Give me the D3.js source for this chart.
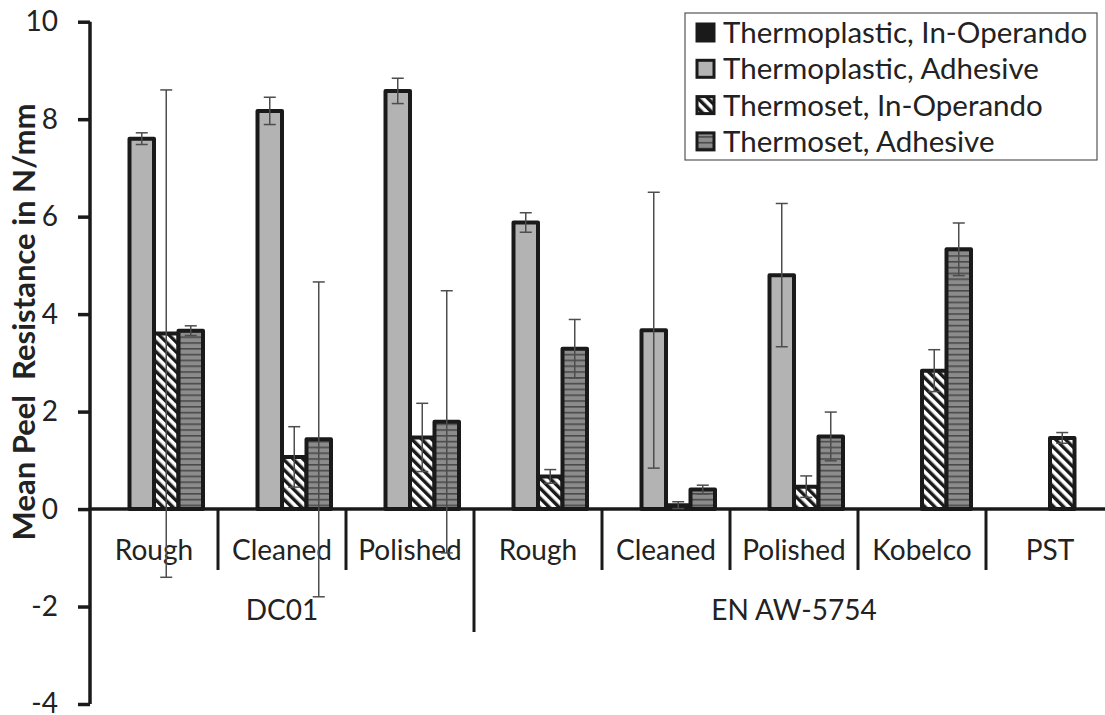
<!DOCTYPE html>
<html>
<head>
<meta charset="utf-8">
<script src="https://cdn.jsdelivr.net/npm/d3@7"></script>
<style>
  body { margin: 0; background: #fff; }
  text { font-family: Lato, 'Open Sans', sans-serif; fill: #222; }
</style>
</head>
<body>
<div id="chart"></div>
<script>
// data
const categories = ['Rough', 'Cleaned', 'Polished', 'Rough', 'Cleaned', 'Polished', 'Kobelco', 'PST'];
const groupNames = ['DC01', 'EN AW-5754'];
const groupSizes = [3, 5];

const seriesNames = ['Thermoplastic, In-Operando', 'Thermoplastic, Adhesive', 'Thermoset, In-Operando', 'Thermoset, Adhesive'];
const tpInOp    = [null, null, null, null, null, null, null, null];
const tpInOpErr = [null, null, null, null, null, null, null, null];
const tpAdh     = [7.6, 8.17, 8.58, 5.88, 3.67, 4.8, null, null];
const tpAdhErr  = [0.12, 0.28, 0.26, 0.2, 2.83, 1.47, null, null];
const tsInOp    = [3.6, 1.07, 1.47, 0.67, 0.08, 0.46, 2.84, 1.46];
const tsInOpErr = [5.0, 0.62, 0.7, 0.14, 0.07, 0.22, 0.43, 0.11];
const tsAdh     = [3.66, 1.43, 1.79, 3.29, 0.4, 1.49, 5.33, null];
const tsAdhErr  = [0.1, 3.23, 2.69, 0.6, 0.09, 0.5, 0.54, null];

const yTicks = [-4, -2, 0, 2, 4, 6, 8, 10];

const values = [tpInOp, tpAdh, tsInOp, tsAdh];
const errors = [tpInOpErr, tpAdhErr, tsInOpErr, tsAdhErr];
const fills = ['#1a1a1a', '#b3b3b3', 'url(#diag)', 'url(#horiz)'];

const W = 1105, H = 715;
const svg = d3.select('#chart').append('svg').attr('width', W).attr('height', H);

// patterns
const defs = svg.append('defs');
const diag = defs.append('pattern').attr('id', 'diag')
  .attr('patternUnits', 'userSpaceOnUse').attr('width', 7).attr('height', 7)
  .attr('patternTransform', 'rotate(-45)');
diag.append('rect').attr('width', 7).attr('height', 7).attr('fill', '#fff');
diag.append('rect').attr('width', 3.4).attr('height', 7).attr('fill', '#1a1a1a');

const horiz = defs.append('pattern').attr('id', 'horiz')
  .attr('patternUnits', 'userSpaceOnUse').attr('width', 10).attr('height', 5.8);
horiz.append('rect').attr('width', 10).attr('height', 5.8).attr('fill', '#8c8c8c');
horiz.append('rect').attr('y', 0).attr('width', 10).attr('height', 1.6).attr('fill', '#4a4a4a');

//scales
const x0 = d3.scaleBand().domain(d3.range(categories.length)).range([90, 90 + 128 * categories.length]);
const x1 = d3.scaleBand().domain(d3.range(seriesNames.length)).range([15, x0.bandwidth() - 15]);
const y = d3.scaleLinear().domain([-4, 10]).range([704, 21.7]);

//y axis
const yAxis = svg.append('g').attr('transform', 'translate(90,0)')
  .call(d3.axisLeft(y).tickValues(yTicks).tickSize(12).tickPadding(20).tickFormat(d => String(d)));
yAxis.select('.domain').attr('stroke', '#1a1a1a').attr('stroke-width', 3.5)
  .attr('d', `M0,${y(10)}V${y(-4)}`);
yAxis.selectAll('.tick line').attr('stroke', '#1a1a1a').attr('stroke-width', 3.5);
yAxis.selectAll('.tick text').attr('font-size', 28).attr('fill', '#222').attr('font-family', "Lato, 'Open Sans', sans-serif");

// y label
svg.append('text')
  .attr('transform', `translate(35,${322}) rotate(-90)`)
  .attr('text-anchor', 'middle')
  .attr('font-size', 31).attr('font-weight', 'bold')
  .style('white-space', 'pre')
  .text('Mean Peel  Resistance in N/mm');

// bars
const barData = [];
values.forEach((vals, s) => vals.forEach((v, c) => {
  if (v != null) barData.push({ s, c, v, e: errors[s][c] });
}));

svg.append('g').selectAll('rect').data(barData).join('rect')
  .attr('x', d => x0(d.c) + x1(d.s))
  .attr('width', x1.bandwidth())
  .attr('y', d => y(Math.max(0, d.v)))
  .attr('height', d => Math.abs(y(d.v) - y(0)))
  .attr('fill', d => fills[d.s])
  .attr('stroke', '#1a1a1a').attr('stroke-width', 4).attr('stroke-linejoin', 'round');

// zero line
svg.append('line').attr('x1', 90).attr('x2', W).attr('y1', y(0)).attr('y2', y(0))
  .attr('stroke', '#1a1a1a').attr('stroke-width', 3.5);

// category labels and separators
svg.append('g').selectAll('text').data(categories).join('text')
  .attr('x', (d, i) => x0(i) + x0.bandwidth() / 2)
  .attr('y', 560)
  .attr('text-anchor', 'middle').attr('font-size', 28)
  .text(d => d);

const groupEdges = d3.cumsum(groupSizes);
svg.append('g').selectAll('line').data(d3.range(1, categories.length)).join('line')
  .attr('x1', i => x0(i)).attr('x2', i => x0(i))
  .attr('y1', y(0))
  .attr('y2', i => groupEdges.includes(i) ? 632 : 570)
  .attr('stroke', '#1a1a1a').attr('stroke-width', 3);

svg.append('g').selectAll('text').data(groupNames).join('text')
  .attr('x', (d, i) => {
    const start = i === 0 ? 0 : groupEdges[i - 1];
    return (x0(start) + x0(groupEdges[i] - 1) + x0.bandwidth()) / 2;
  })
  .attr('y', 620)
  .attr('text-anchor', 'middle').attr('font-size', 28)
  .text(d => d);

// error bars
const errG = svg.append('g').attr('stroke', '#4d4d4d').attr('stroke-width', 1.5);
const errData = barData.filter(d => d.e != null);
const cx = d => x0(d.c) + x1(d.s) + x1.bandwidth() / 2;
errG.selectAll('.stem').data(errData).join('line').attr('class', 'stem')
  .attr('x1', cx).attr('x2', cx)
  .attr('y1', d => y(d.v + d.e)).attr('y2', d => y(d.v - d.e));
errG.selectAll('.capT').data(errData).join('line').attr('class', 'capT')
  .attr('x1', d => cx(d) - 6).attr('x2', d => cx(d) + 6)
  .attr('y1', d => y(d.v + d.e)).attr('y2', d => y(d.v + d.e));
errG.selectAll('.capB').data(errData).join('line').attr('class', 'capB')
  .attr('x1', d => cx(d) - 6).attr('x2', d => cx(d) + 6)
  .attr('y1', d => y(d.v - d.e)).attr('y2', d => y(d.v - d.e));

// legend
const legend = svg.append('g');
legend.append('rect').attr('x', 685).attr('y', 13).attr('width', 412).attr('height', 147)
  .attr('fill', '#fff').attr('stroke', '#555').attr('stroke-width', 1.2);
const rows = legend.selectAll('g').data(seriesNames).join('g')
  .attr('transform', (d, i) => `translate(0,${33 + i * 36.3})`);
rows.append('rect').attr('x', 697).attr('y', -9).attr('width', 17).attr('height', 17)
  .attr('fill', (d, i) => fills[i]).attr('stroke', '#1a1a1a').attr('stroke-width', 3);
rows.append('text').attr('x', 723).attr('y', 10).attr('font-size', 29.5).text(d => d);
</script>
</body>
</html>
